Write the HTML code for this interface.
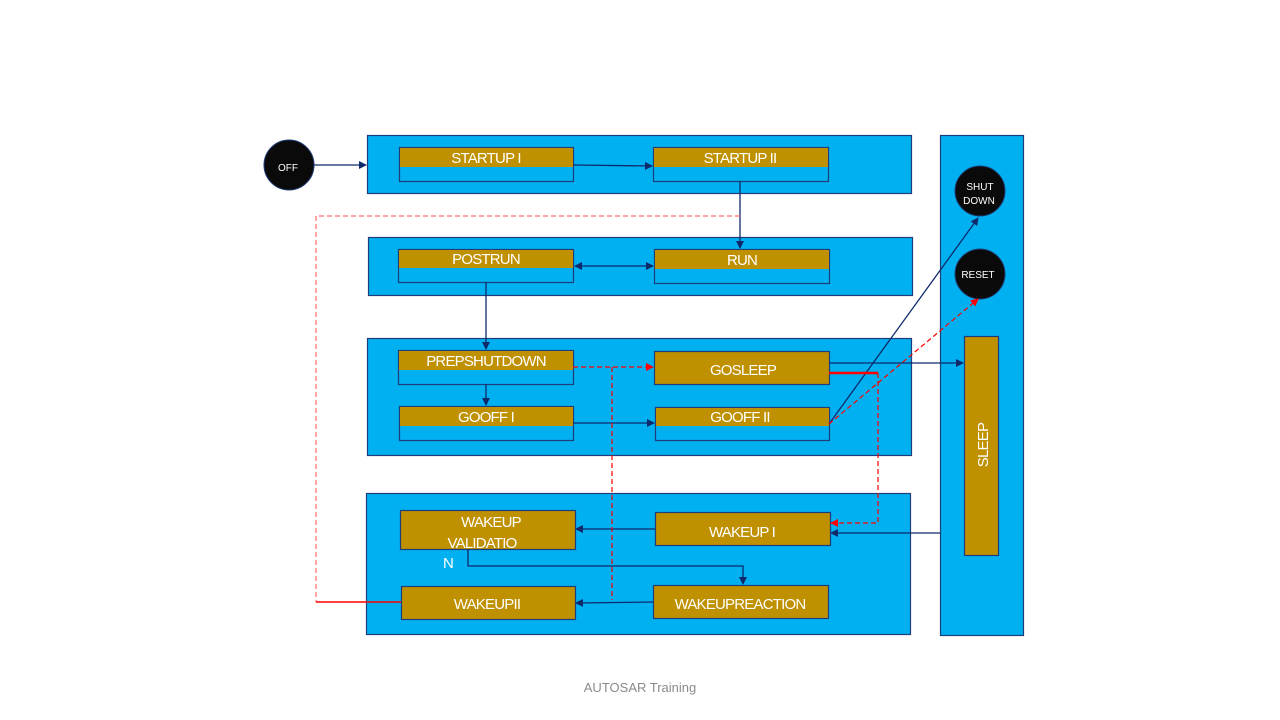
<!DOCTYPE html>
<html><head><meta charset="utf-8"><style>
html,body{margin:0;padding:0;background:#fff;}
svg{display:block;font-family:"Liberation Sans",sans-serif;}
</style></head><body>
<svg width="1280" height="720" viewBox="0 0 1280 720" xmlns="http://www.w3.org/2000/svg">
<defs>
<marker id="a" markerWidth="8" markerHeight="8" refX="7" refY="4" orient="auto" markerUnits="userSpaceOnUse"><path d="M0,0 L8,4 L0,8z" fill="#0e2a6b"/></marker>
<marker id="as" markerWidth="8" markerHeight="8" refX="1" refY="4" orient="auto" markerUnits="userSpaceOnUse"><path d="M8,0 L0,4 L8,8z" fill="#0e2a6b"/></marker>
<marker id="r" markerWidth="8" markerHeight="8" refX="7" refY="4" orient="auto" markerUnits="userSpaceOnUse"><path d="M0,0 L8,4 L0,8z" fill="#f00"/></marker>
</defs>
<g fill="#00b0f0" stroke="#1f3d7a" stroke-width="1.2">
<rect x="367.5" y="135.5" width="544" height="58"/>
<rect x="368.5" y="237.5" width="544" height="58"/>
<rect x="367.5" y="338.5" width="544" height="117"/>
<rect x="366.5" y="493.5" width="544" height="141"/>
<rect x="940.5" y="135.5" width="83" height="500"/>
</g>
<!-- two-tone boxes -->
<g stroke="#1f3d7a" stroke-width="1.2">
<rect x="399.5" y="147.5" width="174" height="34" fill="#00b0f0"/>
<rect x="653.5" y="147.5" width="175" height="34" fill="#00b0f0"/>
<rect x="398.5" y="249.5" width="175" height="33" fill="#00b0f0"/>
<rect x="654.5" y="249.5" width="175" height="34" fill="#00b0f0"/>
<rect x="398.5" y="350.5" width="175" height="34" fill="#00b0f0"/>
<rect x="399.5" y="406.5" width="174" height="34" fill="#00b0f0"/>
<rect x="655.5" y="407.5" width="174" height="33" fill="#00b0f0"/>
<rect x="654.5" y="351.5" width="175" height="33" fill="#bf9000"/>
<rect x="400.5" y="510.5" width="175" height="39" fill="#bf9000"/>
<rect x="655.5" y="512.5" width="175" height="33" fill="#bf9000"/>
<rect x="401.5" y="586.5" width="174" height="33" fill="#bf9000"/>
<rect x="653.5" y="585.5" width="175" height="33" fill="#bf9000"/>
<rect x="964.5" y="336.5" width="34" height="219" fill="#bf9000"/>
</g>
<g fill="#bf9000">
<rect x="400" y="148" width="173" height="19"/>
<rect x="654" y="148" width="174" height="19"/>
<rect x="399" y="250" width="174" height="18"/>
<rect x="655" y="250" width="174" height="19"/>
<rect x="399" y="351" width="174" height="19"/>
<rect x="400" y="407" width="173" height="19"/>
<rect x="656" y="408" width="173" height="18"/>
</g>
<!-- circles -->
<g fill="#0a0a0a" stroke="#1f3d7a" stroke-width="1">
<circle cx="289" cy="165" r="25"/>
<circle cx="980" cy="191" r="25"/>
<circle cx="980" cy="274" r="25"/>
</g>
<!-- connectors -->
<g stroke="#0e2a6b" stroke-width="1.3" fill="none">
<line x1="314" y1="165" x2="366" y2="165" marker-end="url(#a)"/>
<line x1="573" y1="165" x2="652" y2="166" marker-end="url(#a)"/>
<line x1="740" y1="181" x2="740" y2="248" marker-end="url(#a)"/>
<line x1="575" y1="266" x2="653" y2="266" marker-start="url(#as)" marker-end="url(#a)"/>
<line x1="486" y1="282" x2="486" y2="349" marker-end="url(#a)"/>
<line x1="486" y1="384" x2="486" y2="405" marker-end="url(#a)"/>
<line x1="573" y1="423" x2="654" y2="423" marker-end="url(#a)"/>
<line x1="829" y1="363" x2="963" y2="363" marker-end="url(#a)"/>
<line x1="829" y1="424" x2="978" y2="218" marker-end="url(#a)"/>
<line x1="940" y1="533" x2="831" y2="533" marker-end="url(#a)"/>
<line x1="655" y1="529" x2="576" y2="529" marker-end="url(#a)"/>
<polyline points="468,549 468,566 743,566 743,584" marker-end="url(#a)"/>
<line x1="653" y1="602" x2="576" y2="603" marker-end="url(#a)"/>
</g>
<g stroke="#f00" stroke-width="1.2" fill="none">
<polyline points="740,216 316,216 316,602" stroke="#f66" stroke-dasharray="5,3"/>
<line x1="316" y1="602" x2="401" y2="602" stroke-width="1.5"/>
<line x1="573" y1="367" x2="653" y2="367" stroke-dasharray="5,3" marker-end="url(#r)"/>
<line x1="612" y1="367" x2="612" y2="600" stroke-dasharray="5,3"/>
<line x1="829" y1="373" x2="878" y2="373" stroke-width="2.5"/>
<polyline points="878,373 878,523 831,523" stroke-dasharray="5,3" marker-end="url(#r)"/>
<line x1="829" y1="424" x2="978" y2="299" stroke-dasharray="5,3" marker-end="url(#r)"/>
</g>
<!-- labels -->
<g fill="#fff" font-size="15" text-anchor="middle" letter-spacing="-0.8">
<text x="486" y="163">STARTUP I</text>
<text x="740" y="163">STARTUP II</text>
<text x="486" y="264">POSTRUN</text>
<text x="742" y="265">RUN</text>
<text x="486" y="366">PREPSHUTDOWN</text>
<text x="743" y="375">GOSLEEP</text>
<text x="486" y="422">GOOFF I</text>
<text x="740" y="422">GOOFF II</text>
<text x="491" y="527">WAKEUP</text>
<text x="482" y="548">VALIDATIO</text>
<text x="448" y="568">N</text>
<text x="742" y="537">WAKEUP I</text>
<text x="487" y="609">WAKEUPII</text>
<text x="740" y="609">WAKEUPREACTION</text>
<text transform="translate(988,445) rotate(-90)">SLEEP</text>
</g>
<g fill="#fff" font-size="10" text-anchor="middle">
<text x="288" y="171">OFF</text>
<text x="980" y="190">SHUT</text>
<text x="979" y="204">DOWN</text>
<text x="978" y="278">RESET</text>
</g>
<text x="640" y="692" fill="#8a8a8a" font-size="13" text-anchor="middle">AUTOSAR Training</text>
</svg>
</body></html>
